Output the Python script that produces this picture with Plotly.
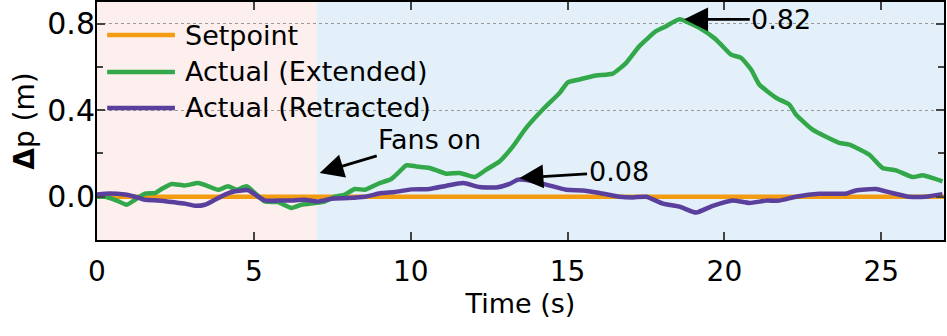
import plotly.graph_objects as go

# time (s) and displacement error (m)
t_ext = [0, 0.25, 0.57, 0.95, 1.21, 1.53, 1.85, 2.06, 2.38, 2.80, 3.23, 3.55, 3.86, 4.18, 4.45,
         4.77, 5.03, 5.35, 5.77, 6.2, 6.52, 6.94, 7.26, 7.58, 7.90, 8.22, 8.54, 8.96, 9.38, 9.6,
         9.86, 10.18, 10.6, 11.14, 11.56, 12.04, 12.41, 12.83, 13.26, 13.68, 14.21, 14.75, 15.01, 15.38, 15.91,
         16.44, 16.87, 17.29, 17.82, 18.14, 18.57, 19.2, 19.73, 20.21, 20.53, 20.85, 21.11, 21.65, 22.07, 22.28,
         22.81, 23.66, 23.98, 24.62, 25.04, 25.47, 26.0, 26.32, 26.63, 26.95]
dp_ext = [0.0, 0.0, -0.014, -0.037, -0.014, 0.014, 0.017, 0.036, 0.059, 0.052, 0.063, 0.048, 0.032, 0.048, 0.032,
          0.048, 0.017, -0.022, -0.025, -0.052, -0.037, -0.029, -0.022, 0.0, 0.01, 0.036, 0.032, 0.06, 0.082, 0.11,
          0.145, 0.14, 0.133, 0.106, 0.11, 0.091, 0.125, 0.163, 0.233, 0.318, 0.403, 0.48, 0.529, 0.542, 0.56,
          0.569, 0.619, 0.696, 0.765, 0.788, 0.82, 0.781, 0.727, 0.657, 0.642, 0.588, 0.519, 0.457, 0.426, 0.38,
          0.31, 0.249, 0.241, 0.194, 0.133, 0.122, 0.091, 0.099, 0.087, 0.071]

t_ret = [0, 0.25, 0.89, 1.21, 1.53, 1.95, 2.48, 2.80, 3.12, 3.44, 3.76, 4.08, 4.39, 4.82, 5.14,
         5.35, 5.77, 6.2, 6.62, 7.05, 7.47, 8.0, 8.54, 9.07, 9.49, 10.02, 10.6, 11.14, 11.67, 12.2,
         12.73, 13.15, 13.42, 13.79, 14.32, 14.96, 15.49, 16.02, 16.66, 17.08, 17.51, 18.04, 18.57, 19.1, 19.63,
         20.26, 20.8, 21.33, 21.75, 22.28, 23.03, 23.87, 24.19, 24.82, 25.35, 25.88, 26.42, 26.95]
dp_ret = [0.01, 0.014, 0.01, 0.0, -0.014, -0.017, -0.026, -0.032, -0.042, -0.037, -0.014, 0.01, 0.025, 0.03, 0.0,
          -0.017, -0.018, -0.017, -0.014, -0.022, -0.009, -0.006, 0.0, 0.017, 0.022, 0.034, 0.036, 0.051, 0.063, 0.045,
          0.043, 0.059, 0.079, 0.075, 0.056, 0.032, 0.029, 0.017, 0.0, -0.003, 0.0, -0.032, -0.046, -0.073, -0.042,
          -0.017, -0.029, -0.018, -0.018, 0.0, 0.014, 0.014, 0.029, 0.036, 0.017, 0.0, 0.0, 0.012]

t_set = [0, 27]
dp_set = [0, 0]

t_fans = 7.0
x_ticks = [0, 5, 10, 15, 20, 25]
y_ticks = [0.0, 0.4, 0.8]

ORANGE = '#f39c12'
GREEN = '#33a84a'
PURPLE = '#5b3f9c'
FONT = 'DejaVu Sans'

fig = go.Figure()
fig.add_trace(go.Scatter(x=t_set, y=dp_set, mode='lines', name='Setpoint',
                         line=dict(color=ORANGE, width=4.5)))
fig.add_trace(go.Scatter(x=t_ext, y=dp_ext, mode='lines', name='Actual (Extended)',
                         line=dict(color=GREEN, width=4.5, shape='spline', smoothing=0.5)))
fig.add_trace(go.Scatter(x=t_ret, y=dp_ret, mode='lines', name='Actual (Retracted)',
                         line=dict(color=PURPLE, width=4.5, shape='spline', smoothing=0.5)))

# background phases: before / after fans
fig.add_vrect(x0=0, x1=t_fans, fillcolor='#fdefee', line_width=0, layer='below')
fig.add_vrect(x0=t_fans, x1=27, fillcolor='#e3f0fa', line_width=0, layer='below')

# legend drawn by hand so the sample lines are long like the original
leg_rows = [0.861, 0.706, 0.555]
for (name, col), yy in zip([('Setpoint', ORANGE), ('Actual (Extended)', GREEN),
                            ('Actual (Retracted)', PURPLE)], leg_rows):
    fig.add_shape(type='line', xref='x domain', yref='y domain', x0=0.012, x1=0.092, y0=yy, y1=yy,
                  line=dict(color=col, width=4.5))
    fig.add_annotation(xref='x domain', yref='y domain', x=0.101, y=yy, text=name, showarrow=False,
                       xanchor='left', yanchor='middle', font=dict(size=27, color='black'))

arrow = dict(showarrow=True, arrowhead=2, arrowsize=1.7, arrowwidth=2.8, arrowcolor='black',
             font=dict(size=27, color='black'))
i_pk = dp_ext.index(max(dp_ext))
fig.add_annotation(x=t_ext[i_pk] + 0.15, y=dp_ext[i_pk], text=f'{dp_ext[i_pk]:.2f}', ax=97, ay=0, **arrow)
i_pr = dp_ret.index(max(dp_ret))
fig.add_annotation(x=t_ret[i_pr] + 0.05, y=dp_ret[i_pr] + 0.008, text=f'{dp_ret[i_pr]:.2f}', ax=99, ay=-6, **arrow)
fig.add_annotation(x=t_fans + 0.1, y=0.11, text='Fans on', ax=110, ay=-33, **arrow)

fig.update_xaxes(range=[0, 27], tickvals=x_ticks, ticks='inside', ticklen=8, tickwidth=1.5,
                 showline=True, linecolor='black', linewidth=2, mirror='ticks', showgrid=False,
                 zeroline=False, tickfont=dict(size=28), automargin=False, ticklabelstandoff=5,
                 title=dict(text='Time (s)', font=dict(size=27), standoff=2))
fig.update_yaxes(range=[-0.2, 0.9], tickvals=y_ticks, tickformat='.1f', ticks='inside', ticklen=8, tickwidth=1.5,
                 minor=dict(tickvals=[-0.2, 0.2, 0.6], ticks='inside', ticklen=6, tickwidth=1.5, showgrid=False),
                 showline=True, linecolor='black', linewidth=2, mirror='ticks',
                 showgrid=True, gridcolor='#999999', griddash='dot', gridwidth=1,
                 zeroline=False, tickfont=dict(size=30), automargin=False, ticklabelstandoff=-6,
                 title=dict(text='<b>Δ</b>p (m)', font=dict(size=28), standoff=4))
fig.update_layout(width=947, height=336, margin=dict(l=97, r=3, t=2, b=96),
                  plot_bgcolor='white', paper_bgcolor='white', showlegend=False,
                  font=dict(family=FONT, color='black'))
fig.write_html('out.html', config={'displayModeBar': False},
               post_script="document.body.style.margin='0';")
